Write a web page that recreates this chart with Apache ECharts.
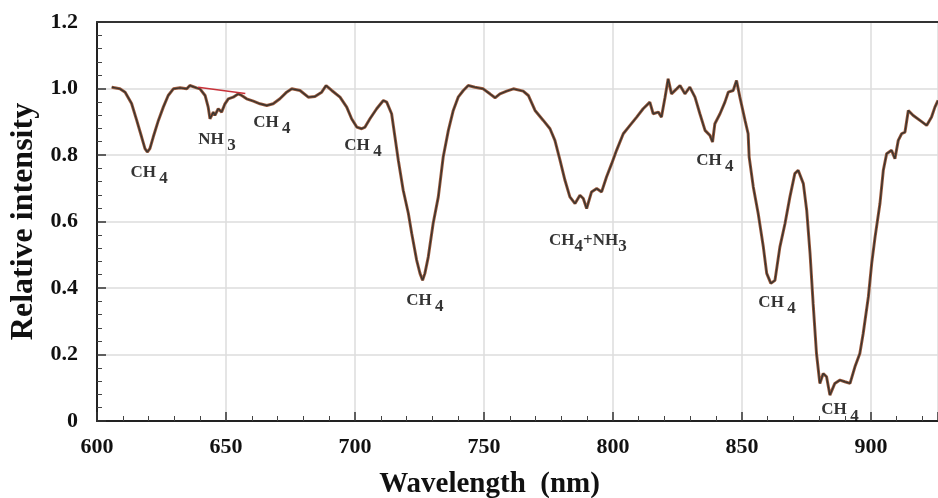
<!DOCTYPE html>
<html>
<head>
<meta charset="utf-8">
<script src="https://cdn.jsdelivr.net/npm/echarts@6/dist/echarts.min.js"></script>
<style>
html,body{margin:0;padding:0;background:#fff;}
#chart{width:938px;height:498px;}
</style>
</head>
<body>
<div id="chart"></div>
<script>
// Spectrum: wavelength (nm) and relative intensity
const wavelength = [605.7,608.9,610.9,613.4,615.4,617.3,618.6,619.5,620.5,621.8,623.8,625.7,627.6,629.6,632.2,634.8,636.0,638.6,639.9,641.9,643.1,643.8,645.1,645.7,647.0,648.3,649.6,650.9,652.8,654.8,656.1,658.0,660.6,663.2,665.8,668.3,670.9,673.5,675.5,678.7,681.9,684.5,687.1,688.8,691.0,694.2,696.8,698.7,700.7,702.6,703.9,705.8,708.4,711.0,712.3,714.2,715.5,716.8,718.7,720.7,722.0,723.9,725.2,726.2,727.1,728.4,730.3,732.3,734.2,736.2,738.1,740.0,742.0,743.9,746.5,749.7,752.3,754.3,756.2,758.8,761.4,765.2,767.2,769.8,773.0,775.6,777.5,779.5,781.4,783.3,785.3,787.2,788.5,789.8,791.7,793.7,795.6,797.5,799.5,801.4,804.0,806.6,809.2,811.7,814.3,815.6,817.6,818.8,820.2,821.4,822.7,824.7,826.0,827.9,829.8,831.8,833.7,835.7,837.6,838.6,839.5,841.5,843.4,844.7,846.6,847.9,849.2,851.2,852.4,852.8,854.4,856.3,858.3,859.6,861.2,862.8,864.7,866.7,868.6,870.5,871.8,873.8,875.1,876.4,877.6,878.9,880.2,881.5,882.8,884.1,886.0,888.0,889.9,891.9,893.8,895.7,897.0,899.0,900.3,901.6,903.5,904.8,906.1,908.0,909.3,910.6,911.9,913.2,914.5,916.4,919.0,921.6,923.5,924.8,926.0];
const intensity = [1.004,0.999,0.989,0.955,0.904,0.854,0.819,0.809,0.819,0.854,0.904,0.944,0.979,0.999,1.002,0.999,1.009,1.002,0.999,0.979,0.944,0.909,0.929,0.919,0.939,0.929,0.954,0.969,0.974,0.984,0.979,0.969,0.962,0.954,0.949,0.954,0.969,0.989,0.999,0.994,0.974,0.976,0.989,1.009,0.994,0.974,0.944,0.909,0.884,0.879,0.884,0.909,0.939,0.964,0.959,0.924,0.854,0.784,0.694,0.624,0.564,0.484,0.444,0.423,0.444,0.493,0.594,0.674,0.794,0.874,0.934,0.974,0.994,1.009,1.004,0.999,0.984,0.972,0.984,0.992,0.999,0.992,0.979,0.934,0.904,0.879,0.844,0.784,0.724,0.674,0.654,0.679,0.669,0.639,0.689,0.699,0.689,0.734,0.774,0.814,0.864,0.889,0.914,0.939,0.959,0.924,0.929,0.914,0.974,1.029,0.984,0.999,1.009,0.984,1.004,0.974,0.924,0.874,0.859,0.839,0.894,0.924,0.959,0.989,0.994,1.024,0.974,0.904,0.864,0.794,0.704,0.624,0.523,0.444,0.414,0.423,0.523,0.594,0.674,0.744,0.754,0.714,0.634,0.504,0.353,0.203,0.113,0.143,0.133,0.078,0.113,0.123,0.118,0.113,0.163,0.203,0.263,0.373,0.474,0.553,0.654,0.754,0.804,0.814,0.789,0.844,0.864,0.869,0.934,0.919,0.904,0.889,0.914,0.944,0.964];

// Red continuum segment across the NH3 band
const continuumX = [639.2, 657.5];
const continuumY = [1.004, 0.985];

// Band annotations
const annotX = [620.2, 646.5, 667.8, 703.1, 727.1, 790.3, 839.5, 863.6, 888.0];
const annotY = [0.748, 0.847, 0.898, 0.829, 0.363, 0.544, 0.784, 0.357, 0.033];
const annotText = ['{m|CH} {s|4}', '{m|NH} {s|3}', '{m|CH} {s|4}', '{m|CH} {s|4}', '{m|CH} {s|4}',
                   '{m|CH}{s|4}{m|+NH}{s|3}', '{m|CH} {s|4}', '{m|CH} {s|4}', '{m|CH} {s|4}'];

// Axis ticks
const xMin = 600, xMax = 926, xStep = 50;
const yMin = 0, yMax = 1.2, yStep = 0.2;

const serif = 'Liberation Serif';
const chart = echarts.init(document.getElementById('chart'));

const spectrum = wavelength.map((w, i) => [w, intensity[i]]);
const continuum = continuumX.map((w, i) => [w, continuumY[i]]);
const annots = annotX.map((w, i) => ({ value: [w, annotY[i]], label: { formatter: annotText[i] } }));

chart.setOption({
  backgroundColor: '#fff',
  animation: false,
  grid: { left: 97, right: 0, top: 22, bottom: 77, containLabel: false, outerBoundsMode: 'none' },
  xAxis: [{
    type: 'value', min: xMin, max: xMax, interval: xStep,
    name: 'Wavelength  (nm)', nameLocation: 'middle', nameGap: 49,
    nameTextStyle: { fontFamily: serif, fontWeight: 'bold', fontSize: 29, color: '#111', padding: [0, 56, 0, 0] },
    axisLine: { lineStyle: { color: '#222', width: 2 } },
    axisTick: { inside: true, length: 9, lineStyle: { color: '#333', width: 1.5 } },
    minorTick: { show: true, splitNumber: 5, length: 5, lineStyle: { color: '#444', width: 1 } },
    axisLabel: { fontFamily: serif, fontWeight: 'bold', fontSize: 22, color: '#111', margin: 15, showMaxLabel: false,
      formatter: v => (v % 50 === 0 ? String(v) : '') },
    splitLine: { show: true, lineStyle: { color: '#dcdcdc', width: 1.5 } }
  }, {
    type: 'value', position: 'top', min: xMin, max: xMax, interval: xStep,
    axisLine: { show: true, lineStyle: { color: '#333', width: 2 } },
    axisTick: { show: false }, axisLabel: { show: false }, splitLine: { show: false }
  }],
  yAxis: {
    type: 'value', min: yMin, max: yMax, interval: yStep,
    name: 'Relative intensity', nameLocation: 'middle', nameGap: 57,
    nameTextStyle: { fontFamily: serif, fontWeight: 'bold', fontSize: 32, color: '#111' },
    axisLine: { show: true, lineStyle: { color: '#222', width: 2 } },
    axisTick: { show: true, inside: true, length: 9, lineStyle: { color: '#333', width: 1.5 } },
    minorTick: { show: true, splitNumber: 5, length: 5, lineStyle: { color: '#444', width: 1 } },
    axisLabel: { fontFamily: serif, fontWeight: 'bold', fontSize: 22, color: '#111', margin: 19,
      formatter: v => (v === 0 ? '0' : v.toFixed(1)) },
    splitLine: { show: true, lineStyle: { color: '#dcdcdc', width: 1.5 } }
  },
  series: [{
    type: 'line', data: spectrum, showSymbol: false, symbol: 'none', silent: true,
    lineStyle: { color: '#9c5a3c', width: 3 }, z: 3
  }, {
    type: 'line', data: spectrum, showSymbol: false, symbol: 'none', silent: true,
    lineStyle: { color: '#3a3530', width: 1.4 }, z: 4
  }, {
    type: 'line', data: continuum, showSymbol: false, symbol: 'none', silent: true,
    lineStyle: { color: '#c8323a', width: 1.5 }, z: 5
  }, {
    type: 'scatter', data: annots, symbolSize: 1, silent: true, z: 6,
    itemStyle: { color: 'rgba(0,0,0,0)' },
    label: {
      show: true, position: 'inside',
      rich: {
        m: { fontFamily: serif, fontWeight: 'bold', fontSize: 17, color: '#000' },
        s: { fontFamily: serif, fontWeight: 'bold', fontSize: 17, color: '#000', padding: [13, 0, 0, 0] }
      }
    }
  }]
});
</script>
</body>
</html>
